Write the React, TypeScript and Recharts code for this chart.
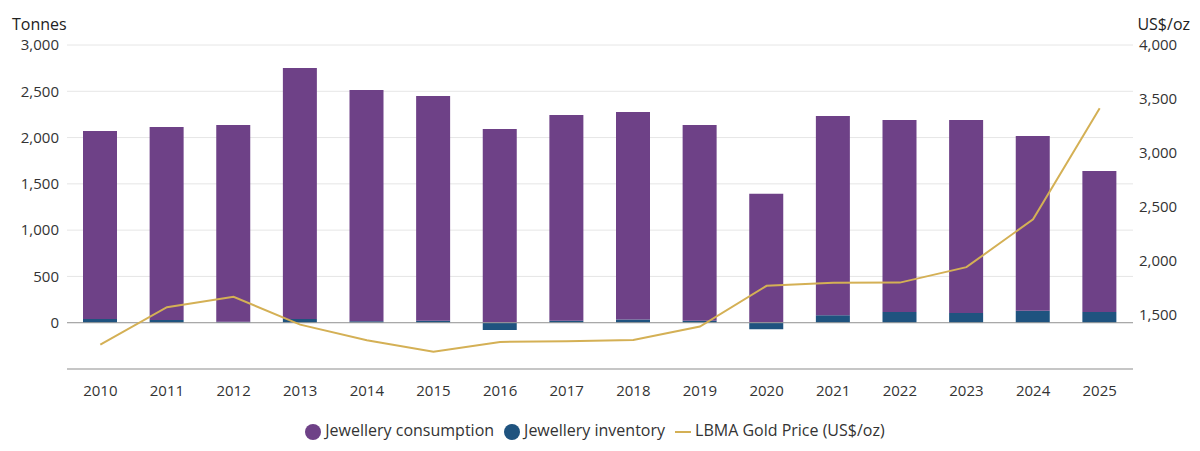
import React from 'react';
import { ComposedChart, Bar, Line, XAxis, YAxis, CartesianGrid, Legend, ReferenceLine } from 'recharts';

const years = ['2010','2011','2012','2013','2014','2015','2016','2017','2018','2019','2020','2021','2022','2023','2024','2025'];
const consumption = [2031,2084,2126,2711,2498,2429,2093,2224,2241,2116,1392,2153,2075,2085,1887,1525];
const inventory = [40,30,10,40,15,20,-80,20,35,20,-70,80,115,105,130,115];
const goldPrice = [1225,1572,1669,1411,1266,1160,1251,1257,1268,1393,1770,1799,1800,1943,2386,3414];
const leftTicks = [0,500,1000,1500,2000,2500,3000];
const rightTicks = [1500,2000,2500,3000,3500,4000];

const data = years.map((y, i) => ({ year: y, consumption: consumption[i], inventory: inventory[i], price: goldPrice[i] }));
const font = '"Open Sans", sans-serif';
const fmt = (v: number) => v.toLocaleString('en-US');

export default function App() {
  return (
    <div style={{ position: 'absolute', left: 0, top: 0, width: 1200, height: 451, fontFamily: font, background: '#fff' }}>
      <div style={{ position: 'absolute', left: 12, top: 13, fontSize: 16, color: '#222' }}>Tonnes</div>
      <div style={{ position: 'absolute', right: 10, top: 13, fontSize: 16, color: '#222' }}>US$/oz</div>
      <ComposedChart width={1200} height={451} data={data} stackOffset="sign"
        margin={{ top: 45, right: 10, bottom: 10, left: 10 }}>
        <CartesianGrid vertical={false} stroke="#e6e6e6" yAxisId="left" />
        <XAxis dataKey="year" tickLine={false} axisLine={{ stroke: '#999' }} tick={{ fill: '#333', fontSize: 15 }} dy={8} />
        <YAxis yAxisId="left" domain={[-500, 3000]} ticks={leftTicks} tickFormatter={fmt} axisLine={false} tickLine={false}
          tick={{ fill: '#333', fontSize: 15 }} width={57} />
        <YAxis yAxisId="right" orientation="right" domain={[1000, 4000]} ticks={rightTicks} tickFormatter={fmt} axisLine={false} tickLine={false}
          tick={{ fill: '#333', fontSize: 15 }} width={57} dx={-2} />
        <ReferenceLine yAxisId="left" y={0} stroke="#999" />
        <Bar yAxisId="left" dataKey="inventory" stackId="a" fill="#1f537f" barSize={34} name="Jewellery inventory" isAnimationActive={false} legendType="circle" />
        <Bar yAxisId="left" dataKey="consumption" stackId="a" fill="#6e4187" barSize={34} name="Jewellery consumption" isAnimationActive={false} legendType="circle" />
        <Line yAxisId="right" dataKey="price" stroke="#d4b055" strokeWidth={2} dot={false} name="LBMA Gold Price (US$/oz)" isAnimationActive={false} legendType="plainline" />
        <Legend verticalAlign="bottom" iconSize={16}
          payload={[
            { value: 'Jewellery consumption', type: 'circle', color: '#6e4187', id: 'c' },
            { value: 'Jewellery inventory', type: 'circle', color: '#1f537f', id: 'i' },
            { value: 'LBMA Gold Price (US$/oz)', type: 'plainline', color: '#d4b055', id: 'p', payload: { strokeDasharray: '0' } as any },
          ]}
          formatter={(v: string) => <span style={{ color: '#333', fontSize: 16 }}>{v}</span>}
          wrapperStyle={{ paddingTop: 20 }} />
      </ComposedChart>
    </div>
  );
}
